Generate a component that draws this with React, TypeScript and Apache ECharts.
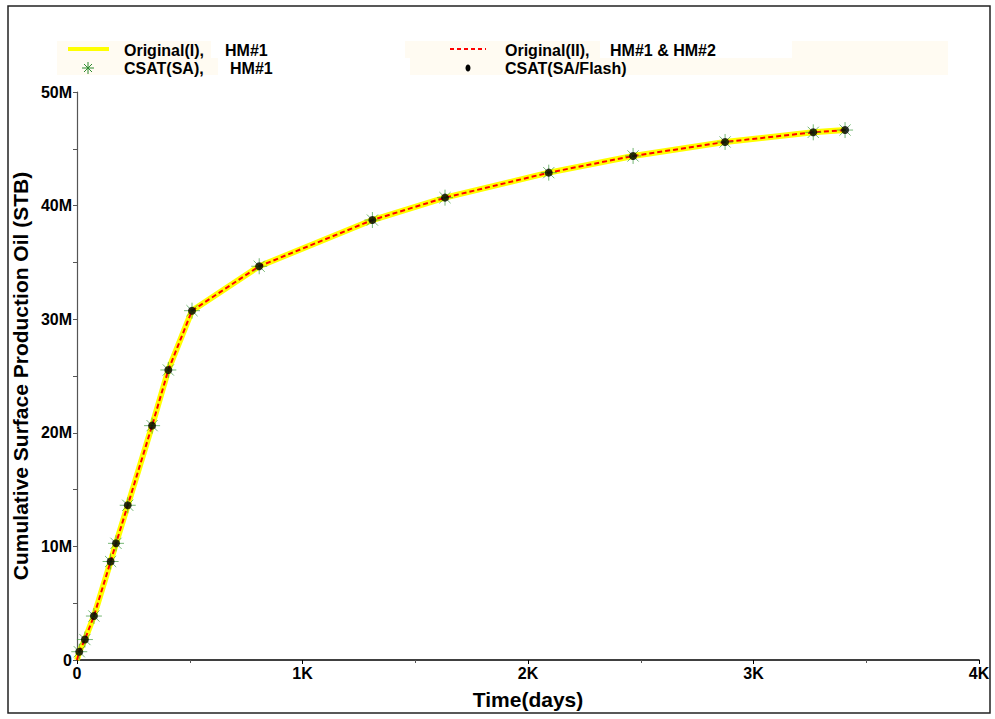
import React, { useEffect, useRef } from "react";
import * as echarts from "echarts";

const lineDays = [0, 10, 35, 75, 149, 173, 225, 333, 405, 510, 808, 1310, 1632, 2092, 2466, 2874, 3265, 3406];
const lineOil = [0, 0.73e6, 1.8e6, 3.87e6, 8.67e6, 10.27e6, 13.62e6, 20.63e6, 25.53e6, 30.75e6, 34.66e6, 38.73e6, 40.7e6, 42.9e6, 44.37e6, 45.6e6, 46.45e6, 46.65e6];
const markDays = [10, 35, 75, 149, 173, 225, 333, 405, 510, 808, 1310, 1632, 2092, 2466, 2874, 3265, 3406];
const markOil = [0.73e6, 1.8e6, 3.87e6, 8.67e6, 10.27e6, 13.62e6, 20.63e6, 25.53e6, 30.75e6, 34.66e6, 38.73e6, 40.7e6, 42.9e6, 44.37e6, 45.6e6, 46.45e6, 46.65e6];
const legendNames = ["Original(I),", "Original(II),", "CSAT(SA),", "CSAT(SA/Flash)"];
const legendTags = ["HM#1", "HM#1 & HM#2", "HM#1"];

const FONT = "'Liberation Sans', Arial, sans-serif";
const STAR = "path://M0,5L10,5M5,0L5,10M1.5,1.5L8.5,8.5M8.5,1.5L1.5,8.5";

export default function App() {
  const ref = useRef<HTMLDivElement>(null);
  useEffect(() => {
    const chart = echarts.init(ref.current!, null, { renderer: "svg" });
    const linePts = lineDays.map((d, i) => [d, lineOil[i]]);
    const markPts = markDays.map((d, i) => [d, markOil[i]]);
    const txt = (x: number, y: number, t: string) => ({
      type: "text", x, y,
      style: { text: t, font: `bold 16px ${FONT}`, fill: "#000", textVerticalAlign: "middle" },
      z: 10,
    });
    chart.setOption({
      animation: false,
      backgroundColor: "#fff",
      grid: { left: 77, right: 16, top: 92, bottom: 59, outerBoundsMode: "none", containLabel: false },
      xAxis: {
        type: "value", min: 0, max: 4000, interval: 1000,
        name: "Time(days)", nameLocation: "middle", nameGap: 29, nameMoveOverlap: false,
        nameTextStyle: { fontFamily: FONT, fontWeight: "bold", fontSize: 21, color: "#000" },
        axisLine: { show: true, onZero: false, lineStyle: { color: "#000", width: 1.5 } },
        axisTick: { show: true, length: 4, lineStyle: { color: "#000" } },
        minorTick: { show: true, splitNumber: 2, length: 3, lineStyle: { color: "#555" } },
        splitLine: { show: false },
        axisLabel: {
          fontFamily: FONT, fontWeight: "bold", fontSize: 16, color: "#000", margin: 5,
          formatter: (v: number) => (v === 0 ? "0" : v / 1000 + "K"),
        },
      },
      yAxis: {
        type: "value", min: 0, max: 50e6, interval: 10e6,
        name: "Cumulative Surface Production Oil (STB)", nameLocation: "middle", nameGap: 46, nameMoveOverlap: false,
        nameTextStyle: { fontFamily: FONT, fontWeight: "bold", fontSize: 21, color: "#000" },
        axisLine: { show: true, onZero: false, lineStyle: { color: "#555", width: 1.2 } },
        axisTick: { show: true, length: 4, lineStyle: { color: "#555" } },
        minorTick: { show: true, splitNumber: 2, length: 4, lineStyle: { color: "#555" } },
        splitLine: { show: false },
        axisLabel: {
          fontFamily: FONT, fontWeight: "bold", fontSize: 16, color: "#000", margin: 5,
          formatter: (v: number) => (v === 0 ? "0" : v / 1e6 + "M"),
        },
      },
      series: [
        {
          type: "line", name: legendNames[0], data: linePts, showSymbol: false, symbol: "none",
          lineStyle: { color: "#ffff00", width: 6 }, z: 2,
        },
        {
          type: "line", name: legendNames[1], data: linePts, showSymbol: false, symbol: "none",
          lineStyle: { color: "#ff0000", width: 2, type: [5, 3] }, z: 3,
        },
        {
          type: "scatter", name: legendNames[2], data: markPts, symbol: STAR, symbolSize: 16,
          itemStyle: { color: "none", borderColor: "#3a9a3a", borderWidth: 1, opacity: 0.7 }, z: 4,
        },
        {
          type: "scatter", name: legendNames[3], data: markPts, symbol: "circle", symbolSize: 8,
          itemStyle: { color: "#000" }, z: 5,
        },
      ],
      graphic: [
        { type: "rect", shape: { x: 8, y: 6, width: 982, height: 707 }, style: { fill: "none", stroke: "#222", lineWidth: 1.5 }, silent: true },
        { type: "rect", shape: { x: 57, y: 41, width: 891, height: 34 }, style: { fill: "#fffbf2" }, z: 1 },
        { type: "rect", shape: { x: 211, y: 41, width: 194, height: 17 }, style: { fill: "#ffffff" }, z: 2 },
        { type: "rect", shape: { x: 218, y: 58, width: 192, height: 17 }, style: { fill: "#ffffff" }, z: 2 },
        { type: "rect", shape: { x: 600, y: 41, width: 192, height: 17 }, style: { fill: "#ffffff" }, z: 2 },
        { type: "line", shape: { x1: 68, y1: 49, x2: 109, y2: 49 }, style: { stroke: "#ffff00", lineWidth: 4 }, z: 5 },
        { type: "line", shape: { x1: 450, y1: 49, x2: 486, y2: 49 }, style: { stroke: "#ff0000", lineWidth: 2, lineDash: [4, 3] }, z: 5 },
        { type: "line", shape: { x1: 82, y1: 68, x2: 94, y2: 68 }, style: { stroke: "#2e8b2e", lineWidth: 1 }, z: 5 },
        { type: "line", shape: { x1: 88, y1: 62, x2: 88, y2: 74 }, style: { stroke: "#2e8b2e", lineWidth: 1 }, z: 5 },
        { type: "line", shape: { x1: 84, y1: 64, x2: 92, y2: 72 }, style: { stroke: "#2e8b2e", lineWidth: 1 }, z: 5 },
        { type: "line", shape: { x1: 92, y1: 64, x2: 84, y2: 72 }, style: { stroke: "#2e8b2e", lineWidth: 1 }, z: 5 },
        { type: "ellipse", shape: { cx: 468, cy: 68, rx: 2.5, ry: 3.5 }, style: { fill: "#000" }, z: 5 },
        txt(124, 50, legendNames[0]),
        txt(225, 50, legendTags[0]),
        txt(505, 50, legendNames[1]),
        txt(610, 50, legendTags[1]),
        txt(124, 68, legendNames[2]),
        txt(230, 68, legendTags[2]),
        txt(505, 68, legendNames[3]),
      ],
    });
    return () => chart.dispose();
  }, []);
  return <div ref={ref} style={{ position: "absolute", left: 0, top: 0, width: 995, height: 719 }} />;
}
